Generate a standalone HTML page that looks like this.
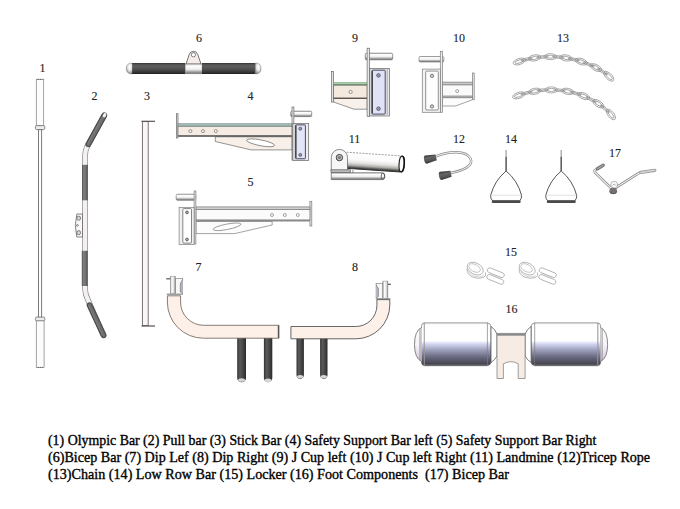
<!DOCTYPE html>
<html><head><meta charset="utf-8">
<style>
html,body{margin:0;padding:0;background:#fff;}
body{width:680px;height:509px;position:relative;overflow:hidden;}
svg{position:absolute;left:0;top:0;}
.cap{position:absolute;left:47.9px;font-family:"Liberation Serif",serif;font-size:14px;color:#000;white-space:pre;line-height:17px;-webkit-text-stroke:0.35px #000;transform-origin:0 0;}
.lb{font-family:"Liberation Serif",serif;font-size:12px;fill:#222;stroke:#222;stroke-width:0.12px;text-anchor:middle;}
</style></head><body>
<svg width="680" height="509" viewBox="0 0 680 509">
<defs>
<linearGradient id="gripV" x1="0" y1="0" x2="0" y2="1">
<stop offset="0" stop-color="#303030"/><stop offset="0.12" stop-color="#505050"/><stop offset="0.3" stop-color="#5e5e5e"/><stop offset="0.6" stop-color="#4c4c4c"/><stop offset="0.85" stop-color="#333"/><stop offset="1" stop-color="#1e1e1e"/></linearGradient>
<linearGradient id="gripH" x1="0" y1="0" x2="1" y2="0">
<stop offset="0" stop-color="#303030"/><stop offset="0.3" stop-color="#5a5a5a"/><stop offset="0.6" stop-color="#4a4a4a"/><stop offset="1" stop-color="#2a2a2a"/></linearGradient>
<linearGradient id="grip2" x1="0" y1="0" x2="1" y2="0">
<stop offset="0" stop-color="#505050"/><stop offset="0.3" stop-color="#808080"/><stop offset="0.65" stop-color="#707070"/><stop offset="1" stop-color="#4e4e4e"/></linearGradient>
<linearGradient id="silV" x1="0" y1="0" x2="0" y2="1">
<stop offset="0" stop-color="#c8c8c8"/><stop offset="0.2" stop-color="#ffffff"/><stop offset="0.55" stop-color="#eeeeee"/><stop offset="0.8" stop-color="#a0a0a0"/><stop offset="1" stop-color="#6a6a6a"/></linearGradient>
<linearGradient id="silH" x1="0" y1="0" x2="1" y2="0">
<stop offset="0" stop-color="#9a9a9a"/><stop offset="0.3" stop-color="#ffffff"/><stop offset="0.7" stop-color="#e0e0e0"/><stop offset="1" stop-color="#8a8a8a"/></linearGradient>
<linearGradient id="roll" x1="0" y1="0" x2="0" y2="1">
<stop offset="0" stop-color="#d8d8d8"/><stop offset="0.045" stop-color="#ffffff"/><stop offset="0.42" stop-color="#ffffff"/><stop offset="0.49" stop-color="#d4d8f2"/><stop offset="0.63" stop-color="#9fa1bc"/><stop offset="0.8" stop-color="#68687f"/><stop offset="0.95" stop-color="#484854"/><stop offset="1" stop-color="#666"/></linearGradient>
<radialGradient id="capR" cx="0.55" cy="0.35" r="0.75">
<stop offset="0" stop-color="#ffffff"/><stop offset="0.45" stop-color="#e6e6e6"/><stop offset="1" stop-color="#6a6a6a"/></radialGradient>
<linearGradient id="domeG" x1="0" y1="0" x2="0" y2="1">
<stop offset="0" stop-color="#ffffff"/><stop offset="0.5" stop-color="#f6f3f8"/><stop offset="1" stop-color="#d6cade"/></linearGradient>
<linearGradient id="tube11" x1="0" y1="0" x2="0" y2="1">
<stop offset="0" stop-color="#ffffff"/><stop offset="0.4" stop-color="#fbfbfb"/><stop offset="0.62" stop-color="#e6e4e2"/><stop offset="0.8" stop-color="#aeaca8"/><stop offset="0.92" stop-color="#5a5856"/><stop offset="1" stop-color="#2a2a2a"/></linearGradient>
<linearGradient id="capD" x1="0" y1="0" x2="0" y2="1">
<stop offset="0" stop-color="#353535"/><stop offset="0.35" stop-color="#666"/><stop offset="0.7" stop-color="#555"/><stop offset="1" stop-color="#333"/></linearGradient>
</defs>

<g class="lb">
<text x="42.5" y="71.7">1</text>
<text x="94.5" y="99.5">2</text>
<text x="147" y="99.5">3</text>
<text x="250.5" y="99.5">4</text>
<text x="250.5" y="185.5">5</text>
<text x="199" y="42">6</text>
<text x="198.5" y="270.5">7</text>
<text x="355" y="270.5">8</text>
<text x="355" y="42">9</text>
<text x="459" y="42">10</text>
<text x="354.5" y="143">11</text>
<text x="459" y="143">12</text>
<text x="563" y="42">13</text>
<text x="511" y="142.5">14</text>
<text x="511" y="256">15</text>
<text x="511.5" y="313.2">16</text>
<text x="615" y="156.6">17</text>
</g>

<!-- 1 olympic bar -->
<g stroke="#858585" stroke-width="0.75">
<rect x="36.3" y="79.3" width="7.4" height="46.5" fill="#fcfcfc"/>
<line x1="37.5" y1="79.4" x2="42.5" y2="79.4" stroke="#555" stroke-width="0.8" stroke-dasharray="1.5,0.8"/>
<rect x="38.5" y="129.6" width="3.1" height="187.8" fill="#fdfdfd" stroke="#7a7a7a" stroke-width="1"/>
<rect x="35.4" y="125.6" width="9.4" height="4" rx="1.3" fill="#ececec" stroke="#666"/>
<rect x="35.4" y="317.1" width="9.4" height="3.8" rx="1.3" fill="#ececec" stroke="#666"/>
<rect x="36.3" y="320.9" width="7.8" height="46.6" fill="#fcfcfc"/>
<line x1="37.5" y1="367.4" x2="43" y2="367.4" stroke="#555" stroke-width="0.8" stroke-dasharray="1.5,0.8"/>
</g>

<!-- 2 pull bar (curved) -->
<g fill="none">
<path d="M104.5,115 L87.8,145 Q85,150.5 85,156 L85,288 Q85,294 88,300 L103.5,335.5" stroke="#8a8a8a" stroke-width="5.6"/>
<path d="M104.5,115 L87.8,145 Q85,150.5 85,156 L85,288 Q85,294 88,300 L103.5,335.5" stroke="#f6f1f1" stroke-width="4.2"/>
<line x1="104.3" y1="115.3" x2="88.4" y2="144.3" stroke="#4a4a4a" stroke-width="5.8" stroke-linecap="round"/>
<line x1="104.3" y1="115.3" x2="88.4" y2="144.3" stroke="#6e6e6e" stroke-width="3.6" stroke-linecap="round"/>
<line x1="103.6" y1="115" x2="88" y2="143.5" stroke="#808080" stroke-width="1" stroke-linecap="round"/>
<ellipse cx="104.6" cy="115.3" rx="2.3" ry="1.6" fill="#f4f4f4" transform="rotate(-60 104.6 115.3)"/>
<rect x="82" y="164.8" width="5.8" height="35.5" fill="url(#grip2)"/>
<rect x="81.8" y="250.8" width="5.9" height="35.2" fill="url(#grip2)"/>
<line x1="89.6" y1="305.2" x2="103.6" y2="335.3" stroke="#4a4a4a" stroke-width="5.8" stroke-linecap="round"/>
<line x1="89.6" y1="305.2" x2="103.6" y2="335.3" stroke="#6e6e6e" stroke-width="3.6" stroke-linecap="round"/>
<line x1="88.8" y1="305.6" x2="102.8" y2="335.7" stroke="#7e7e7e" stroke-width="1" stroke-linecap="round"/>
<path d="M82.5,214 L76.8,214 Q73.8,225.5 76.8,237 L82.5,237 Z" fill="#fbf8f6" stroke="#555" stroke-width="0.7"/>
<ellipse cx="78.7" cy="218.2" rx="1.9" ry="2.1" fill="#d6d6d6" stroke="#555" stroke-width="0.7"/>
<circle cx="77.4" cy="225.4" r="0.9" fill="#fff" stroke="#555" stroke-width="0.7"/>
<ellipse cx="78.7" cy="232.7" rx="1.9" ry="2.1" fill="#d6d6d6" stroke="#555" stroke-width="0.7"/>
</g>

<!-- 3 stick bar -->
<g>
<rect x="142.4" y="121.5" width="5.8" height="204" fill="#fbf6f6" stroke="#6e6464" stroke-width="0.9"/>
<line x1="141.5" y1="121.3" x2="155" y2="121.3" stroke="#555" stroke-width="1.2"/>
<line x1="141.5" y1="326" x2="155" y2="326" stroke="#555" stroke-width="1.2"/>
</g>

<!-- 6 handle -->
<g>
<path d="M186,64 L189.3,54.2 A4.5,4.5 0 0 1 197.7,54.2 L201,64 Z" fill="#f4ece8" stroke="#555" stroke-width="0.8"/>
<circle cx="193.4" cy="54.8" r="2.1" fill="#fff" stroke="#555" stroke-width="0.7"/>
<path d="M132.5,63 L132.5,74 Q126.3,74 126.3,68.5 Q126.3,63 132.5,63 Z" fill="url(#capR)" stroke="#777" stroke-width="0.5"/>
<rect x="132.2" y="63" width="53" height="11" fill="url(#gripV)"/>
<rect x="185.2" y="64" width="16.9" height="9.8" fill="url(#silV)" stroke="#777" stroke-width="0.5"/>
<rect x="202" y="63" width="53.4" height="11" fill="url(#gripV)"/>
<path d="M255.2,63 L255.2,74 Q261,74 261,68.5 Q261,63 255.2,63 Z" fill="url(#capR)" stroke="#777" stroke-width="0.5"/>
</g>

<!-- 9 J cup left -->
<g stroke="#6a6a6a" stroke-width="0.7">
<rect x="331.6" y="71.4" width="2" height="30.7" fill="#e2e2e2"/>
<path d="M333.6,98.2 L333.6,102 L354,109.2 L367.2,109.2 L367.2,98.2 Z" fill="#f8f1eb"/>
<rect x="333.6" y="84.8" width="33.6" height="13.4" fill="#f3e9df"/>
<rect x="333.6" y="82.4" width="33.6" height="2.4" fill="#a8cfaa" stroke="#7a9a80" stroke-width="0.5"/>
<line x1="333.6" y1="85" x2="367.2" y2="85" stroke="#4a5a4c" stroke-width="0.8"/>
<line x1="333.6" y1="98.2" x2="367.2" y2="98.2" stroke="#4a3e36" stroke-width="1"/>
<circle cx="350.6" cy="91.9" r="1.6" fill="#fff"/>
<rect x="365.3" y="53.2" width="27.4" height="6.6" rx="1.5" fill="url(#silV)"/>
<rect x="367.1" y="48.2" width="2.4" height="68.1" fill="#e8e8e8"/>
<rect x="369.5" y="68.4" width="20" height="47.6" fill="#d8d8d8"/>
<rect x="386" y="69" width="2.6" height="46.5" fill="#eee" stroke="none"/>
<line x1="387.2" y1="69" x2="387.2" y2="115.6" stroke="#888"/>
<rect x="371.9" y="70.2" width="13.3" height="43.9" rx="1" fill="#e0e3f8" stroke="#3e4058" stroke-width="0.9"/>
<line x1="372.3" y1="71" x2="372.3" y2="113.3" stroke="#333" stroke-width="1"/>
<circle cx="378.5" cy="75.4" r="1.8" fill="#9a9ab8" stroke="#444"/>
<circle cx="378.5" cy="108.7" r="1.8" fill="#9a9ab8" stroke="#444"/>
</g>

<!-- 10 J cup right -->
<g stroke="#7c7c7c" stroke-width="0.7">
<rect x="472.6" y="73" width="1.6" height="26.7" fill="#e8e8e8"/>
<path d="M442.5,97.4 L472.6,97.4 L472.6,99.7 L455.6,106 L442.5,106 Z" fill="#fcfcfc"/>
<rect x="442.5" y="84.8" width="30.1" height="12.6" fill="#fafafa"/>
<rect x="442.5" y="82.1" width="30.1" height="2.7" fill="#c8c8c8"/>
<rect x="442.5" y="96" width="30.1" height="1.8" fill="#bdbdbd"/>
<circle cx="457.2" cy="91.1" r="1.5" fill="#fff"/>
<rect x="419" y="56.5" width="24.8" height="5.5" rx="1.2" fill="url(#silV)"/>
<rect x="440.3" y="51.3" width="2.2" height="61" fill="#eee"/>
<rect x="422.3" y="69.1" width="18" height="43.2" fill="#f2f2f2"/>
<rect x="425.7" y="71.1" width="12.6" height="38.9" rx="1" fill="#fdfdfd" stroke="#666"/>
<circle cx="432" cy="75.8" r="1.7" fill="#ccc" stroke="#555"/>
<circle cx="432" cy="106.4" r="1.7" fill="#ccc" stroke="#555"/>
</g>

<!-- 4 safety support left -->
<g stroke="#6a6a6a" stroke-width="0.7">
<rect x="176.4" y="113.7" width="1.6" height="24.3" fill="#ddd"/>
<path d="M215.3,136.8 L215.3,141.5 L251.3,149.9 L292.2,149.9 L292.2,136.8 Z" fill="#f7efe8"/>
<ellipse cx="260.6" cy="142.8" rx="14.3" ry="2.9" transform="rotate(11 260.6 142.8)" fill="#fff"/>
<rect x="178" y="126.2" width="114.2" height="9.3" fill="#f5ebe2"/>
<rect x="178" y="123.7" width="114.2" height="2.4" fill="#a2bab7" stroke="#6a807a" stroke-width="0.5"/>
<rect x="178" y="135.5" width="114.2" height="1.3" fill="#555" stroke="none"/>
<circle cx="190.4" cy="131.1" r="1.5" fill="#fff"/>
<circle cx="203" cy="131.1" r="1.5" fill="#fff"/>
<circle cx="215.8" cy="131.1" r="1.5" fill="#fff"/>
<rect x="290.7" y="111.2" width="21" height="5.4" rx="1.3" fill="url(#silV)"/>
<rect x="292" y="107" width="1.9" height="53" fill="#e8e8e8"/>
<rect x="292.7" y="123.4" width="16" height="37.2" fill="#d4d4d4"/>
<rect x="306" y="124" width="2" height="36" fill="#eee" stroke="none"/>
<rect x="295.6" y="124.9" width="9.8" height="33.8" rx="0.8" fill="#e2e5f8" stroke="#3e4058" stroke-width="0.9"/>
<line x1="296" y1="125.5" x2="296" y2="158" stroke="#333" stroke-width="1"/>
<circle cx="300.3" cy="128.7" r="1.5" fill="#9a9ab8" stroke="#444"/>
<circle cx="300.3" cy="154.9" r="1.5" fill="#9a9ab8" stroke="#444"/>
</g>

<!-- 5 safety support right -->
<g stroke="#7c7c7c" stroke-width="0.7">
<rect x="309.9" y="201.3" width="1.9" height="24.7" fill="#e4e4e4"/>
<path d="M196,221.5 L272.2,221.5 L272.2,225 L234.7,233.6 L196,233.6 Z" fill="#fcfcfc"/>
<ellipse cx="227" cy="226.8" rx="14.2" ry="2.7" transform="rotate(-11 227 226.8)" fill="#fff"/>
<rect x="196" y="209.6" width="113.9" height="10.3" fill="#fbfbfb"/>
<rect x="196" y="206.9" width="113.9" height="2.7" fill="#cfcfcf"/>
<rect x="196" y="219.9" width="113.9" height="1.6" fill="#8a8a8a" stroke="none"/>
<circle cx="272" cy="215" r="1.5" fill="#fff"/>
<circle cx="284.8" cy="215" r="1.5" fill="#fff"/>
<circle cx="297.8" cy="215" r="1.5" fill="#fff"/>
<rect x="176.2" y="194.2" width="19.6" height="6.1" rx="1.3" fill="url(#silV)"/>
<rect x="194.1" y="191" width="1.8" height="53" fill="#e8e8e8"/>
<rect x="179.1" y="207.5" width="15" height="37.1" fill="#f0f0f0"/>
<rect x="182.8" y="208.6" width="8.7" height="34.5" rx="1" fill="#fff" stroke="#555"/>
<circle cx="187" cy="212.4" r="1.4" fill="#aaa" stroke="#444"/>
<circle cx="187" cy="239.5" r="1.4" fill="#aaa" stroke="#444"/>
</g>

<!-- 11 landmine -->
<g stroke="#5a5a5a" stroke-width="0.7">
<path d="M331.3,172.8 L382,172.8 A3.5,3.5 0 0 1 382,179.6 L331.3,179.6 Z" fill="url(#silV)"/>
<ellipse cx="383" cy="176.2" rx="1.8" ry="3.3" fill="none" stroke="#333"/>
<g transform="rotate(3.9 346 160.2)">
<rect x="346" y="152.2" width="55.5" height="16" fill="url(#tube11)" stroke="none"/>
<line x1="346" y1="152.2" x2="401.5" y2="152.2" stroke="#777" stroke-dasharray="2,1.2"/>
<line x1="346" y1="168.2" x2="401.5" y2="168.2" stroke="#333" stroke-width="1"/>
<ellipse cx="401.8" cy="160.2" rx="2.6" ry="7.9" fill="#fafafa" stroke="#222" stroke-width="1.2"/>
<path d="M401.8,152.3 A2.6,7.9 0 0 1 401.8,168.1" fill="none" stroke="#111" stroke-width="1.4"/>
</g>
<path d="M331.3,171 L331.3,157.5 A8.1,8.1 0 0 1 347.5,157.5 L347.5,171 Z" fill="#f6f6f6"/>
<rect x="331" y="169.8" width="19.3" height="2.5" fill="#bdbdbd"/>
<line x1="352.9" y1="170" x2="352.9" y2="173" stroke="#666"/>
<circle cx="339.4" cy="157.6" r="3.2" fill="#bbb" stroke="#333" stroke-width="0.9"/>
<circle cx="339.4" cy="157.6" r="1.5" fill="#777" stroke="none"/>
</g>

<!-- 12 tricep rope -->
<g>
<path d="M436,156.3 C449,151 466,150 470.5,158.5 C474,166 463,170.5 451,173" fill="none" stroke="#8a8a8a" stroke-width="2.4"/>
<path d="M436,156.3 C449,151 466,150 470.5,158.5 C474,166 463,170.5 451,173" fill="none" stroke="#f2f2f2" stroke-width="1.1"/>
<path d="M-4.5,-4.2 L6,-3 L6,3 L-4.5,4.2 Q-6.3,4 -6.3,0 Q-6.3,-4 -4.5,-4.2 Z" fill="url(#capD)" transform="translate(430.3 158.6) rotate(-12)"/>
<path d="M-4.5,-4.2 L6,-3 L6,3 L-4.5,4.2 Q-6.3,4 -6.3,0 Q-6.3,-4 -4.5,-4.2 Z" fill="url(#capD)" transform="translate(445.2 175) rotate(-12)"/>
</g>

<!-- 13 chains -->
<g fill="none" stroke="#8c8c8c" stroke-width="0.72">
<ellipse cx="519.3" cy="61.5" rx="6.3" ry="3.0" transform="rotate(-17.8 519.3 61.5)"/><ellipse cx="519.3" cy="61.5" rx="4.5" ry="1.5" transform="rotate(-17.8 519.3 61.5)"/>
<ellipse cx="526.7" cy="59.4" rx="5.7" ry="1.3" transform="rotate(-13.5 526.7 59.4)"/><line x1="522.0" y1="59.4" x2="531.4" y2="59.4" transform="rotate(-13.5 526.7 59.4)"/>
<ellipse cx="534.6" cy="57.9" rx="6.3" ry="3.0" transform="rotate(-8.8 534.6 57.9)"/><ellipse cx="534.6" cy="57.9" rx="4.5" ry="1.5" transform="rotate(-8.8 534.6 57.9)"/>
<ellipse cx="542.4" cy="57.0" rx="5.7" ry="1.3" transform="rotate(-4.3 542.4 57.0)"/><line x1="537.7" y1="57.0" x2="547.1" y2="57.0" transform="rotate(-4.3 542.4 57.0)"/>
<ellipse cx="550.3" cy="56.7" rx="6.3" ry="3.0" transform="rotate(0.2 550.3 56.7)"/><ellipse cx="550.3" cy="56.7" rx="4.5" ry="1.5" transform="rotate(0.2 550.3 56.7)"/>
<ellipse cx="558.2" cy="57.0" rx="5.7" ry="1.3" transform="rotate(4.7 558.2 57.0)"/><line x1="553.5" y1="57.0" x2="562.9" y2="57.0" transform="rotate(4.7 558.2 57.0)"/>
<ellipse cx="565.9" cy="57.9" rx="6.3" ry="3.0" transform="rotate(9.0 565.9 57.9)"/><ellipse cx="565.9" cy="57.9" rx="4.5" ry="1.5" transform="rotate(9.0 565.9 57.9)"/>
<ellipse cx="573.7" cy="59.5" rx="5.7" ry="1.3" transform="rotate(13.4 573.7 59.5)"/><line x1="569.0" y1="59.5" x2="578.4" y2="59.5" transform="rotate(13.4 573.7 59.5)"/>
<ellipse cx="581.2" cy="61.6" rx="6.3" ry="3.0" transform="rotate(17.7 581.2 61.6)"/><ellipse cx="581.2" cy="61.6" rx="4.5" ry="1.5" transform="rotate(17.7 581.2 61.6)"/>
<ellipse cx="588.7" cy="64.3" rx="5.7" ry="1.3" transform="rotate(22.2 588.7 64.3)"/><line x1="584.0" y1="64.3" x2="593.4" y2="64.3" transform="rotate(22.2 588.7 64.3)"/>
<ellipse cx="595.9" cy="67.6" rx="6.3" ry="3.0" transform="rotate(27.0 595.9 67.6)"/><ellipse cx="595.9" cy="67.6" rx="4.5" ry="1.5" transform="rotate(27.0 595.9 67.6)"/>
<ellipse cx="602.6" cy="71.5" rx="5.7" ry="1.3" transform="rotate(32.9 602.6 71.5)"/><line x1="597.9" y1="71.5" x2="607.3" y2="71.5" transform="rotate(32.9 602.6 71.5)"/>
<ellipse cx="608.8" cy="76.3" rx="6.3" ry="3.0" transform="rotate(44.5 608.8 76.3)"/><ellipse cx="608.8" cy="76.3" rx="4.5" ry="1.5" transform="rotate(44.5 608.8 76.3)"/>


<ellipse cx="518.7" cy="95.4" rx="6.3" ry="3.0" transform="rotate(-18.5 518.7 95.4)"/><ellipse cx="518.7" cy="95.4" rx="4.5" ry="1.5" transform="rotate(-18.5 518.7 95.4)"/>
<ellipse cx="526.6" cy="93.0" rx="5.7" ry="1.3" transform="rotate(-14.3 526.6 93.0)"/><line x1="521.9" y1="93.0" x2="531.3" y2="93.0" transform="rotate(-14.3 526.6 93.0)"/>
<ellipse cx="534.8" cy="91.3" rx="6.3" ry="3.0" transform="rotate(-9.8 534.8 91.3)"/><ellipse cx="534.8" cy="91.3" rx="4.5" ry="1.5" transform="rotate(-9.8 534.8 91.3)"/>
<ellipse cx="542.9" cy="90.2" rx="5.7" ry="1.3" transform="rotate(-5.1 542.9 90.2)"/><line x1="538.2" y1="90.2" x2="547.6" y2="90.2" transform="rotate(-5.1 542.9 90.2)"/>
<ellipse cx="551.3" cy="89.9" rx="6.3" ry="3.0" transform="rotate(0.1 551.3 89.9)"/><ellipse cx="551.3" cy="89.9" rx="4.5" ry="1.5" transform="rotate(0.1 551.3 89.9)"/>
<ellipse cx="559.5" cy="90.3" rx="5.7" ry="1.3" transform="rotate(5.3 559.5 90.3)"/><line x1="554.8" y1="90.3" x2="564.2" y2="90.3" transform="rotate(5.3 559.5 90.3)"/>
<ellipse cx="567.8" cy="91.4" rx="6.3" ry="3.0" transform="rotate(10.8 567.8 91.4)"/><ellipse cx="567.8" cy="91.4" rx="4.5" ry="1.5" transform="rotate(10.8 567.8 91.4)"/>
<ellipse cx="575.7" cy="93.3" rx="5.7" ry="1.3" transform="rotate(16.2 575.7 93.3)"/><line x1="571.0" y1="93.3" x2="580.4" y2="93.3" transform="rotate(16.2 575.7 93.3)"/>
<ellipse cx="583.6" cy="96.0" rx="6.3" ry="3.0" transform="rotate(21.8 583.6 96.0)"/><ellipse cx="583.6" cy="96.0" rx="4.5" ry="1.5" transform="rotate(21.8 583.6 96.0)"/>
<ellipse cx="591.1" cy="99.5" rx="5.7" ry="1.3" transform="rotate(27.4 591.1 99.5)"/><line x1="586.4" y1="99.5" x2="595.8" y2="99.5" transform="rotate(27.4 591.1 99.5)"/>
<ellipse cx="598.3" cy="103.7" rx="6.3" ry="3.0" transform="rotate(33.4 598.3 103.7)"/><ellipse cx="598.3" cy="103.7" rx="4.5" ry="1.5" transform="rotate(33.4 598.3 103.7)"/>
<ellipse cx="605.0" cy="108.7" rx="5.7" ry="1.3" transform="rotate(40.2 605.0 108.7)"/><line x1="600.3" y1="108.7" x2="609.7" y2="108.7" transform="rotate(40.2 605.0 108.7)"/>
<ellipse cx="610.9" cy="114.5" rx="6.3" ry="3.0" transform="rotate(51.0 610.9 114.5)"/><ellipse cx="610.9" cy="114.5" rx="4.5" ry="1.5" transform="rotate(51.0 610.9 114.5)"/>
</g>

<!-- 14 low row bars -->
<g fill="none">
<g id="lr">
<line x1="506.1" y1="150" x2="506.1" y2="156.7" stroke="#aaa" stroke-width="1.4"/>
<line x1="506.1" y1="156.7" x2="506.1" y2="171" stroke="#555" stroke-width="1.5"/>
<path d="M506.1,171 Q494.5,180.5 490.6,195.5 Q490.5,199.2 492.5,200.6 M506.1,171 Q517.7,180.5 521.6,195.5 Q521.7,199.2 519.7,200.6" stroke="#555" stroke-width="1"/>
<line x1="491" y1="195.2" x2="521" y2="195.2" stroke="#ccc" stroke-width="0.6"/>
<rect x="491.8" y="200.1" width="28.8" height="2.9" rx="1" fill="#4a4a4a"/>
<line x1="492.5" y1="200.5" x2="520" y2="200.5" stroke="#777" stroke-width="0.6"/>
</g>
<use href="#lr" transform="translate(55.1,0)"/>
</g>

<!-- 17 bicep bar -->
<g fill="none" stroke-linecap="round">
<path d="M597.2,168.8 L594.7,170.3 L594.9,172.4 L610.8,187.8 L616,187.6 L637.4,173.9 L640.5,172.4" stroke="#8a8a8a" stroke-width="2.6" stroke-linejoin="round"/>
<path d="M597.2,168.8 L594.7,170.3 L594.9,172.4 L610.8,187.8 L616,187.6 L637.4,173.9 L640.5,172.4" stroke="#f8f8f8" stroke-width="1.1" stroke-linejoin="round"/>
<line x1="597.4" y1="168.7" x2="603.2" y2="165.2" stroke="#777" stroke-width="3.4"/>
<line x1="597.4" y1="168.7" x2="603.2" y2="165.2" stroke="#a8a8a8" stroke-width="1.3"/>
<line x1="640.8" y1="172.4" x2="654.8" y2="170.3" stroke="#9a9a9a" stroke-width="3.2"/>
<line x1="640.8" y1="172.4" x2="654.8" y2="170.3" stroke="#d6d6d6" stroke-width="1.5"/>
<circle cx="614.2" cy="184.7" r="3.5" fill="#fafafa" stroke="#999" stroke-width="0.7"/>
<path d="M612.6,185.2 A1.8,1.8 0 0 1 615.8,185.2" stroke="#888" stroke-width="0.6"/>
<ellipse cx="613.2" cy="190.9" rx="3.8" ry="3.2" fill="#767070" stroke="none"/>
<path d="M609.6,191.6 A3.8,3.2 0 0 0 616.8,191.6" stroke="#555" stroke-width="0.8"/>
</g>

<!-- 7 dip left -->
<g>
<rect x="175.3" y="278.3" width="7.4" height="16" fill="#f8f8f8" stroke="#777" stroke-width="0.6"/>
<path d="M182.7,279.5 L180.3,283.5 L180.3,292 L182.7,294" fill="#b4b6c2" stroke="#555" stroke-width="0.5"/>
<rect x="170.3" y="276.2" width="5" height="17.6" fill="url(#silH)" stroke="#888" stroke-width="0.5"/>
<line x1="166.2" y1="278.8" x2="170.3" y2="278.8" stroke="#555" stroke-width="1.2"/>
<rect x="166.5" y="293.5" width="14.8" height="1.6" rx="0.8" fill="#a0a0a0"/>
<path d="M167.4,295.8 L167.4,302 A36,36 0 0 0 203.4,338.2 L279,338.2 L279,325.3 L203.4,325.3 A23,23 0 0 1 180.6,302 L180.6,295.8 Z" fill="#fcf0e8" stroke="#7a6e64" stroke-width="0.9"/>
<line x1="278.4" y1="325.6" x2="278.4" y2="338" stroke="#555" stroke-width="1.2"/>
<path d="M237.2,338.3 h8.8 v39.6 a4.4,4.4 0 0 1 -8.8,0 Z" fill="url(#gripH)"/>
<path d="M263.9,338.3 h8.4 v39.8 a4.2,4.2 0 0 1 -8.4,0 Z" fill="url(#gripH)"/>
<ellipse cx="241.6" cy="380" rx="3.4" ry="1.8" fill="#d8d8d8"/>
<ellipse cx="268.1" cy="380.2" rx="3.3" ry="1.8" fill="#d8d8d8"/>
</g>

<!-- 8 dip right -->
<g>
<rect x="376.1" y="283.6" width="6.7" height="15.1" fill="#f8f8f8" stroke="#777" stroke-width="0.6"/>
<path d="M376.1,284.8 L378.4,288.5 L378.4,296.5 L376.1,298.5" fill="#b4b6c2" stroke="#555" stroke-width="0.5"/>
<rect x="382.8" y="281.1" width="5.1" height="17.6" fill="url(#silH)" stroke="#888" stroke-width="0.5"/>
<line x1="387.9" y1="284.3" x2="390.9" y2="284.3" stroke="#555" stroke-width="1.2"/>
<rect x="376" y="298" width="14.6" height="1.6" rx="0.8" fill="#a0a0a0"/>
<path d="M389.8,299.6 L389.8,305 A34,34 0 0 1 355.8,338.8 L290.9,338.8 L290.9,326.5 L355.8,326.5 A21.1,21.1 0 0 0 376.9,305.4 L376.9,299.6 Z" fill="#fcf0e8" stroke="#555" stroke-width="0.9"/>
<path d="M296.5,338.8 h7.4 v36.2 a3.7,3.7 0 0 1 -7.4,0 Z" fill="url(#gripH)"/>
<path d="M320.1,338.8 h7.4 v36.2 a3.7,3.7 0 0 1 -7.4,0 Z" fill="url(#gripH)"/>
<ellipse cx="300.2" cy="376.5" rx="3.2" ry="1.6" fill="#d8d8d8"/>
<ellipse cx="323.8" cy="376.5" rx="3.2" ry="1.6" fill="#d8d8d8"/>
</g>

<!-- 15 lockers -->
<g fill="none" stroke="#a6a6a6" stroke-width="0.75" id="lk">
<ellipse cx="475.2" cy="268.6" rx="8.6" ry="5.6" transform="rotate(28 475.2 268.6)"/>
<ellipse cx="474.6" cy="268" rx="6.2" ry="3.6" transform="rotate(28 474.6 268)" stroke="#b8b8b8"/>
<path d="M467.2,268.5 Q466.5,274 472,276.8 Q478,279.5 483.5,277.5 Q486.5,276 485.5,272.5" stroke="#a0a0a0"/>
<path d="M468.6,270.8 Q469.5,274.5 474.5,276.2 Q480,278 484,275.6" stroke="#c4c4c4"/>
<rect x="486.8" y="270.3" width="18" height="4.8" rx="2.4" transform="rotate(22 495.8 272.7)"/>
<rect x="486.3" y="277" width="18" height="4.8" rx="2.4" transform="rotate(22 495.3 279.4)"/>
<path d="M490,273.5 L500,277.5" stroke="#c4c4c4" transform="rotate(0)"/>
</g>
<use href="#lk" transform="translate(52,0)"/>

<!-- 16 foot components -->
<g id="roller">
<rect x="424.3" y="322.8" width="63.1" height="42.9" fill="url(#roll)"/>
<line x1="424.3" y1="322.8" x2="487.4" y2="322.8" stroke="#888" stroke-width="0.7"/>
<line x1="424.3" y1="365.7" x2="487.4" y2="365.7" stroke="#555" stroke-width="0.7"/>
<path d="M424.3,322.8 Q421.5,323.3 421.5,326 L421.5,362.5 Q421.5,365.2 424.3,365.7 Z" fill="url(#roll)" stroke="#666" stroke-width="0.6"/>
<path d="M421.5,327.5 Q414.5,331 414.5,344.5 Q414.5,358 421.5,361.5" fill="url(#domeG)" stroke="#555" stroke-width="0.7"/>
<line x1="420" y1="328.5" x2="420" y2="360.5" stroke="#777" stroke-width="0.8"/>
<line x1="424.3" y1="323" x2="424.3" y2="365.5" stroke="#aaa" stroke-width="0.6"/>
<path d="M487.4,322.8 Q491,323.3 491,327 L491,361.5 Q491,365.2 487.4,365.7 Z" fill="url(#roll)" stroke="#666" stroke-width="0.6"/>
<path d="M491,326.5 Q495,329 497,334 L497,356 Q495,360 491,362.5 Z" fill="#fff" stroke="#444" stroke-width="0.7"/>
</g>
<use href="#roller" transform="translate(1022.1,0) scale(-1,1)"/>
<g>
<path d="M497,333.4 L525.1,333.4 L525.1,378.5 L518.2,378.5 L518.2,363.8 Q510.8,359.5 503.4,363.8 L503.4,378.5 L497,378.5 Z" fill="#f6ece4" stroke="#777" stroke-width="0.7"/>
<rect x="497" y="333.4" width="28.1" height="2.3" fill="#8a8a8a"/>
</g>
</svg>
<div class="cap" style="top:431.6px;transform:scaleX(0.9905)">(1) Olympic Bar (2) Pull bar (3) Stick Bar (4) Safety Support Bar left (5) Safety Support Bar Right</div>
<div class="cap" style="top:448.7px;transform:scaleX(1.006)">(6)Bicep Bar (7) Dip Lef (8) Dip Right (9) J Cup left (10) J Cup left Right (11) Landmine (12)Tricep Rope</div>
<div class="cap" style="top:466.2px;transform:scaleX(1.009)">(13)Chain (14) Low Row Bar (15) Locker (16) Foot Components&#160; (17) Bicep Bar</div>
</body></html>
